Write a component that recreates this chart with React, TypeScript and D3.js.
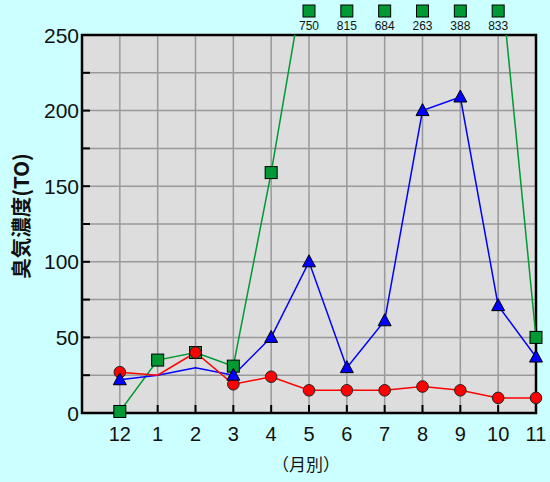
import React from "react";
import * as d3 from "d3";

const months = ["12", "1", "2", "3", "4", "5", "6", "7", "8", "9", "10", "11"];
const redValues = [27, 25, 40, 19, 24, 15, 15, 15, 17.5, 15, 10, 10];
const blueValues = [22, 25, 30, 25, 50, 100, 30, 61, 200, 209, 71, 37];
const greenValues = [1, 35, 40, 31, 159, 750, 815, 684, 263, 388, 833, 50];
const redNoMarker = ["1"];
const blueNoMarker = ["1", "2"];
const greenNoMarker: string[] = [];
const yTicks = [0, 50, 100, 150, 200, 250];
const yMinorTicks = [25, 50, 75, 100, 125, 150, 175, 200, 225];
const yMax = 250;
const lineClampValue = 305;
const yTitle = "臭気濃度(TO)";
const xTitle = "（月別）";

const W = 550;
const H = 482;
const L = 82;
const R = 536;
const T = 35;
const B = 413;

export default function App() {
  const x = d3.scaleLinear().domain([-1, months.length - 1]).range([L, R]);
  const y = d3.scaleLinear().domain([0, yMax]).range([B, T]);
  const xi = (i: number) => x(i);

  const line = d3
    .line<number>()
    .x((_, i) => xi(i))
    .y((v) => y(Math.min(v, lineClampValue)));

  const font = "'Liberation Sans', Arial, sans-serif";

  const squares = (vals: number[], hide: string[]) =>
    vals.map((v, i) => {
      if (hide.includes(months[i])) return null;
      if (v > yMax) {
        return (
          <g key={"sq" + i}>
            <rect x={xi(i) - 6} y={5} width={12} height={12} fill="#009933" stroke="#000" strokeWidth={1} />
            <text x={xi(i)} y={30} textAnchor="middle" fontSize={12} fontFamily={font} fill="#111">
              {v}
            </text>
          </g>
        );
      }
      return <rect key={"sq" + i} x={xi(i) - 6} y={y(v) - 6} width={12} height={12} fill="#009933" stroke="#000" strokeWidth={1} />;
    });

  const circles = (vals: number[], hide: string[]) =>
    vals.map((v, i) =>
      hide.includes(months[i]) ? null : (
        <circle key={"c" + i} cx={xi(i)} cy={y(v)} r={5.8} fill="#FF0000" stroke="#222" strokeWidth={1} />
      )
    );

  const tri = (vals: number[], hide: string[]) =>
    vals.map((v, i) => {
      if (hide.includes(months[i])) return null;
      const cx = xi(i);
      const cy = y(v);
      const pts = `${cx},${cy - 7} ${cx - 6.5},${cy + 5} ${cx + 6.5},${cy + 5}`;
      return <polygon key={"t" + i} points={pts} fill="#0000FF" stroke="#000" strokeWidth={1} />;
    });

  return (
    <svg width={W} height={H} style={{ position: "absolute", left: 0, top: 0 }}>
      <defs>
        <clipPath id="plotClip">
          <rect x={L} y={T} width={R - L} height={B - T} />
        </clipPath>
      </defs>
      <rect x={0} y={0} width={W} height={H} fill="#CCFFFF" />
      <rect x={L} y={T} width={R - L} height={B - T} fill="#DDDDDD" />
      {yMinorTicks.map((t) => (
        <line key={"hg" + t} x1={L} x2={R} y1={y(t)} y2={y(t)} stroke="#999" strokeWidth={1.5} />
      ))}
      {months.map((m, i) => (
        <line key={"vg" + m} x1={xi(i)} x2={xi(i)} y1={T} y2={B} stroke="#999" strokeWidth={1.5} />
      ))}
      {yMinorTicks.map((t) => (
        <line key={"yt" + t} x1={L} x2={L + 8} y1={y(t)} y2={y(t)} stroke="#000" strokeWidth={2} />
      ))}
      {months.map((m, i) => (
        <line key={"xt" + m} x1={xi(i)} x2={xi(i)} y1={B} y2={B - 8} stroke="#000" strokeWidth={2} />
      ))}
      <rect x={L} y={T} width={R - L} height={B - T} fill="none" stroke="#000" strokeWidth={2.5} />

      <g clipPath="url(#plotClip)" fill="none">
        <path d={line(greenValues) || ""} stroke="#009933" strokeWidth={1.5} />
        <path d={line(blueValues) || ""} stroke="#0000FF" strokeWidth={1.5} />
        <path d={line(redValues) || ""} stroke="#FF0000" strokeWidth={1.5} />
      </g>

      {squares(greenValues, greenNoMarker)}
      {circles(redValues, redNoMarker)}
      {tri(blueValues, blueNoMarker)}

      {yTicks.map((t) => (
        <text key={"yl" + t} x={79} y={y(t)} dy="0.36em" textAnchor="end" fontSize={21} fontFamily={font} fill="#111">
          {t}
        </text>
      ))}
      {months.map((m, i) => (
        <text key={"xl" + m} x={xi(i)} y={441} textAnchor="middle" fontSize={20} fontFamily={font} fill="#111">
          {m}
        </text>
      ))}
      <text
        transform={`translate(29,216) rotate(-90)`}
        textAnchor="middle"
        fontSize={20.5}
        fontWeight="bold"
        fontFamily="'Noto Sans CJK JP', sans-serif"
        fill="#111"
      >
        {yTitle}
      </text>
      <text x={306} y={471} textAnchor="middle" fontSize={17} fontFamily="'Noto Sans CJK JP', sans-serif" fill="#111">
        {xTitle}
      </text>
    </svg>
  );
}
